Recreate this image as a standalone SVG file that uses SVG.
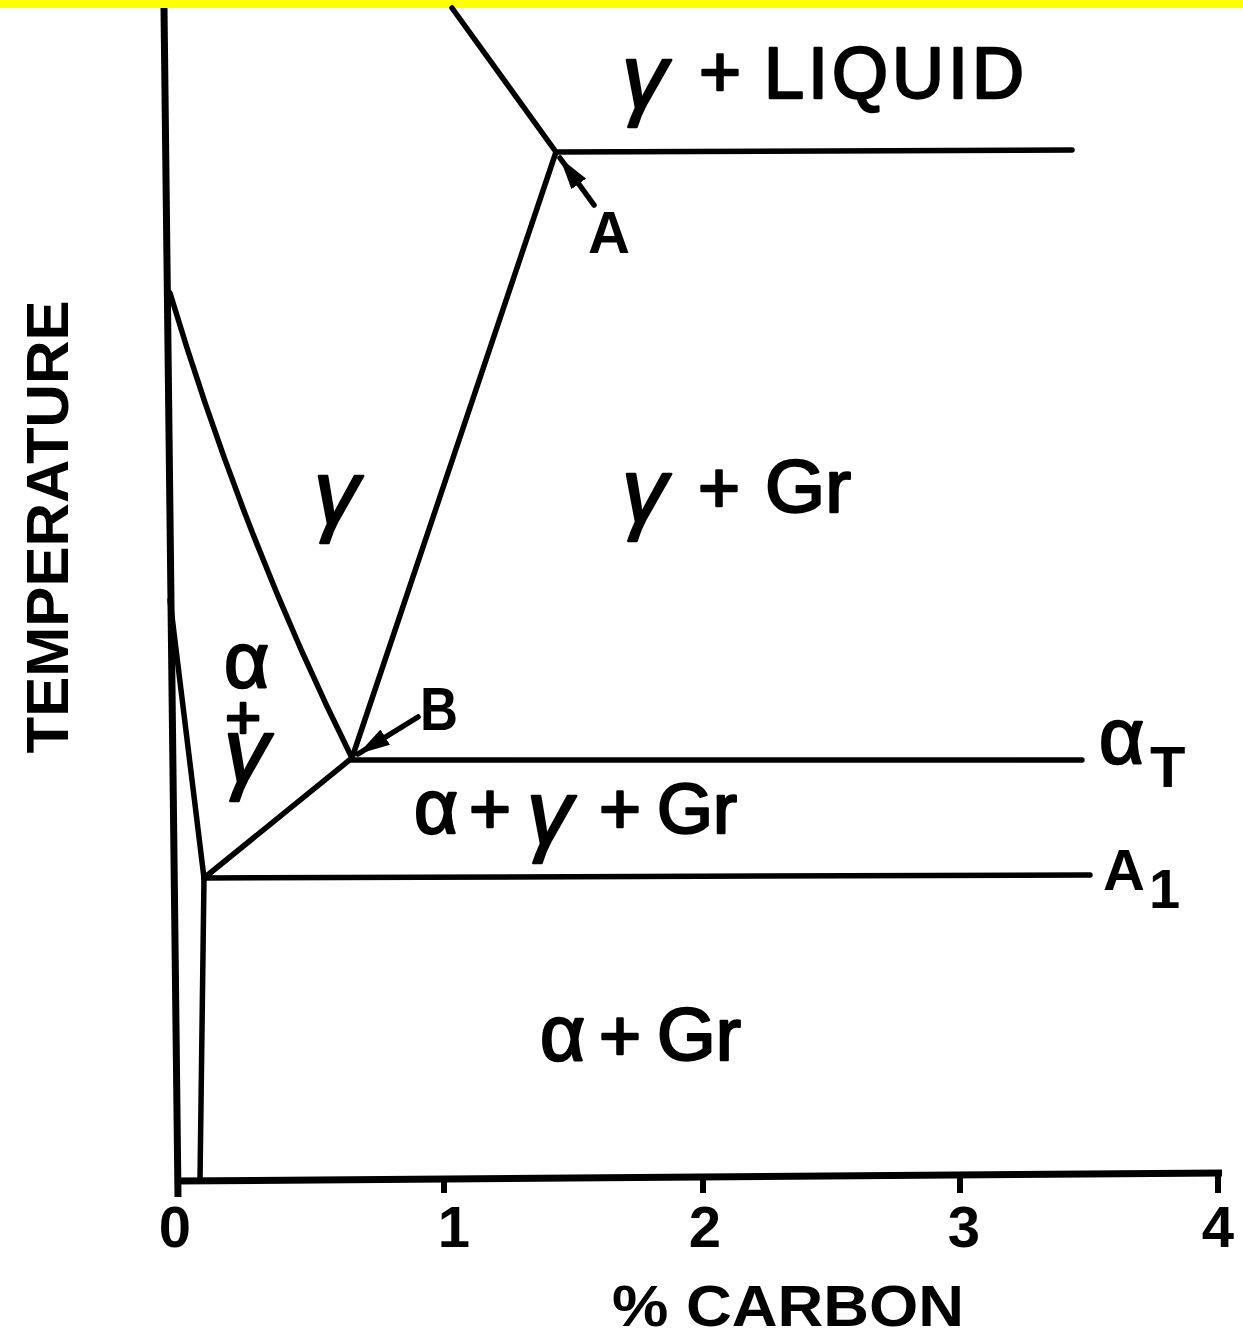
<svg xmlns="http://www.w3.org/2000/svg" width="1243" height="1341" viewBox="0 0 1243 1341">
<style>
.ln{stroke:#000;stroke-width:5.5;fill:none;stroke-linecap:round;stroke-linejoin:round}
.ax{stroke:#000;stroke-width:7;fill:none;stroke-linecap:butt}
.tk{stroke:#000;stroke-width:6;fill:none}
.t{font-family:"Liberation Sans","Noto Sans",sans-serif;fill:#000}
.r{font-size:72px;stroke:#000;stroke-width:2.4;stroke-linejoin:round}
.b{font-weight:bold}
.g{font-size:90px;font-style:italic}
</style>
<defs>
<marker id="ah" markerUnits="userSpaceOnUse" markerWidth="34" markerHeight="20" refX="32" refY="10" orient="auto"><path d="M0,1 L32,10 L0,19 z" fill="#000"/></marker>
</defs>
<rect x="0" y="0" width="1243" height="8" fill="#FFFF00"/>
<g id="axes">
<line class="ax" x1="164" y1="8" x2="178" y2="1197"/>
<line class="ax" x1="175" y1="1181" x2="1222" y2="1173"/>
<line class="tk" x1="444" y1="1178" x2="444" y2="1193"/>
<line class="tk" x1="703" y1="1176" x2="703" y2="1193"/>
<line class="tk" x1="960" y1="1175" x2="960" y2="1193"/>
<line class="tk" x1="1218" y1="1173" x2="1218" y2="1193"/>
</g>
<g id="boundaries">
<line class="ln" x1="452" y1="8" x2="556" y2="152"/>
<line class="ln" x1="556" y1="152" x2="1072" y2="150"/>
<line class="ln" x1="556" y1="152" x2="352" y2="758"/>
<path class="ln" d="M170,293 Q245,543 352,758"/>
<line class="ln" x1="352" y1="760" x2="1082" y2="760"/>
<line class="ln" x1="352" y1="758" x2="204" y2="878"/>
<line class="ln" x1="170" y1="600" x2="204" y2="878"/>
<line class="ln" x1="204" y1="878" x2="1090" y2="875"/>
<line class="ln" x1="204" y1="878" x2="200" y2="1180"/>
</g>
<g id="connectors">
<line class="ln" x1="594" y1="205" x2="560" y2="158" marker-end="url(#ah)"/>
<line class="ln" x1="418" y1="717" x2="358" y2="754" marker-end="url(#ah)"/>
</g>
<g id="labels">
<text class="t r"><tspan class="g" x="622" y="108">γ</tspan><tspan x="679" y="96"> + </tspan><tspan x="764" y="98" textLength="260" lengthAdjust="spacing">LIQUID</tspan></text>
<text class="t r g" x="314" y="524">γ</text>
<text class="t r"><tspan class="g" x="622" y="522">γ</tspan><tspan x="678" y="512"> + </tspan><tspan x="765" y="512" style="font-size:74px" textLength="86" lengthAdjust="spacingAndGlyphs">Gr</tspan></text>
<text class="t r"><tspan x="414" y="833" style="font-size:76px">α</tspan><tspan x="469" y="833">+</tspan><tspan class="g" x="527" y="844">γ</tspan><tspan x="599" y="833">+</tspan><tspan x="657" y="833" style="font-size:70px" textLength="80" lengthAdjust="spacingAndGlyphs">Gr</tspan></text>
<text class="t r"><tspan x="540" y="1060" style="font-size:78px">α</tspan><tspan x="599" y="1060">+</tspan><tspan x="657" y="1060" style="font-size:74px" textLength="84" lengthAdjust="spacingAndGlyphs">Gr</tspan></text>
<text class="t r"><tspan x="224" y="687" style="font-size:78px">α</tspan><tspan x="225" y="738" style="font-size:62px">+</tspan><tspan class="g" x="224" y="782">γ</tspan></text>
<text class="t b" x="588" y="253" style="font-size:60px" textLength="42" lengthAdjust="spacingAndGlyphs">A</text>
<text class="t b" x="420" y="730" style="font-size:62px" textLength="38" lengthAdjust="spacingAndGlyphs">B</text>
<text class="t"><tspan class="r" x="1099" y="763" style="font-size:78px">α</tspan><tspan class="b" x="1150" y="787" style="font-size:58px">T</tspan></text>
<text class="t b"><tspan x="1103" y="890" style="font-size:58px">A</tspan><tspan x="1149" y="908" style="font-size:56px">1</tspan></text>
<g class="t b" style="font-size:58px" text-anchor="middle">
<text x="175" y="1247">0</text>
<text x="454" y="1247">1</text>
<text x="705" y="1247">2</text>
<text x="964" y="1247">3</text>
<text x="1218" y="1247">4</text>
</g>
<text class="t b" x="612" y="1326" style="font-size:58px" textLength="352" lengthAdjust="spacingAndGlyphs">% CARBON</text>
<text class="t b" transform="translate(68,527) rotate(-90)" text-anchor="middle" style="font-size:60px" textLength="453" lengthAdjust="spacingAndGlyphs">TEMPERATURE</text>
</g>
</svg>
